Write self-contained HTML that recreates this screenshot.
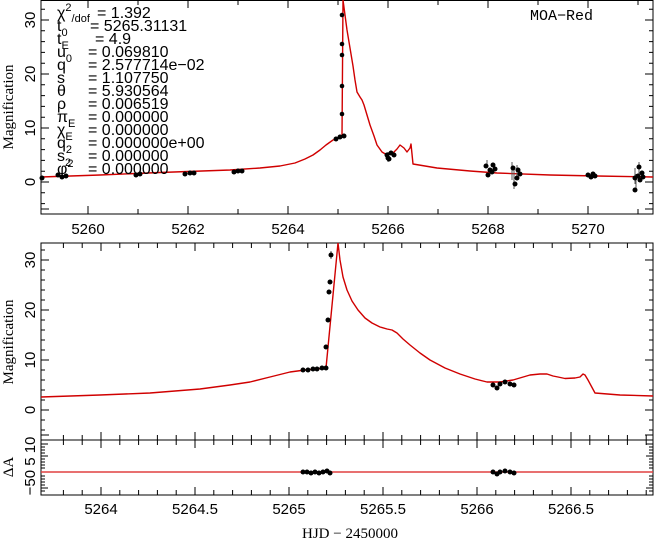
<!DOCTYPE html>
<html><head><meta charset="utf-8"><style>
html,body{margin:0;padding:0;background:#fff;}
svg{display:block;}
.t{font-family:"Liberation Sans",sans-serif;font-size:15px;fill:#000;}
.s{font-family:"Liberation Serif",serif;font-size:15px;fill:#000;}
.p{font-family:"Liberation Sans",sans-serif;font-size:16px;fill:#000;}
</style></head><body>
<svg width="655" height="542" viewBox="0 0 655 542" xmlns="http://www.w3.org/2000/svg">
<g stroke="#000" fill="none" stroke-width="1">
<rect x="41" y="0.5" width="612" height="213.5"/>
<rect x="41" y="243" width="612" height="252"/>
<line x1="41" y1="440" x2="653" y2="440"/>
</g>
<g stroke="#000" stroke-width="1">
<path d="M88 214v-8M88 0v8M188 214v-8M188 0v8M288 214v-8M288 0v8M388 214v-8M388 0v8M488 214v-8M488 0v8M588 214v-8M588 0v8
M138 214v-5M138 0v5M238 214v-5M238 0v5M338 214v-5M338 0v5M438 214v-5M438 0v5M538 214v-5M538 0v5M638 214v-5M638 0v5"/>
<path d="M41 182h8M653 182h-8M41 128h8M653 128h-8M41 74h8M653 74h-8M41 20h8M653 20h-8M41 209h8M653 209h-8
M41 171.2h4M41 160.4h4M41 149.6h4M41 138.8h4M41 117.2h4M41 106.4h4M41 95.6h4M41 84.8h4M41 63.2h4M41 52.4h4M41 41.6h4M41 30.8h4M41 9.2h4M41 192.8h4M41 203.6h4
M653 171.2h-4M653 160.4h-4M653 149.6h-4M653 138.8h-4M653 117.2h-4M653 106.4h-4M653 95.6h-4M653 84.8h-4M653 63.2h-4M653 52.4h-4M653 41.6h-4M653 30.8h-4M653 9.2h-4M653 192.8h-4M653 203.6h-4"/>
<path d="M101 243v8M195 243v8M289 243v8M383 243v8M477 243v8M571 243v8
M101 440v-8M195 440v-8M289 440v-8M383 440v-8M477 440v-8M571 440v-8
M101 440v8M195 440v8M289 440v8M383 440v8M477 440v8M571 440v8
M101 495v-8M195 495v-8M289 495v-8M383 495v-8M477 495v-8M571 495v-8
M63.4 243v5M82.2 243v5M119.8 243v5M138.6 243v5M157.4 243v5M176.2 243v5M213.8 243v5M232.6 243v5M251.4 243v5M270.2 243v5M307.8 243v5M326.6 243v5M345.4 243v5M364.2 243v5M401.8 243v5M420.6 243v5M439.4 243v5M458.2 243v5M495.8 243v5M514.6 243v5M533.4 243v5M552.2 243v5M589.8 243v5M608.6 243v5M627.4 243v5M646.2 243v5
M63.4 440v-5M82.2 440v-5M119.8 440v-5M138.6 440v-5M157.4 440v-5M176.2 440v-5M213.8 440v-5M232.6 440v-5M251.4 440v-5M270.2 440v-5M307.8 440v-5M326.6 440v-5M345.4 440v-5M364.2 440v-5M401.8 440v-5M420.6 440v-5M439.4 440v-5M458.2 440v-5M495.8 440v-5M514.6 440v-5M533.4 440v-5M552.2 440v-5M589.8 440v-5M608.6 440v-5M627.4 440v-5M646.2 440v-5
M63.4 440v5M82.2 440v5M119.8 440v5M138.6 440v5M157.4 440v5M176.2 440v5M213.8 440v5M232.6 440v5M251.4 440v5M270.2 440v5M307.8 440v5M326.6 440v5M345.4 440v5M364.2 440v5M401.8 440v5M420.6 440v5M439.4 440v5M458.2 440v5M495.8 440v5M514.6 440v5M533.4 440v5M552.2 440v5M589.8 440v5M608.6 440v5M627.4 440v5M646.2 440v5
M63.4 495v-5M82.2 495v-5M119.8 495v-5M138.6 495v-5M157.4 495v-5M176.2 495v-5M213.8 495v-5M232.6 495v-5M251.4 495v-5M270.2 495v-5M307.8 495v-5M326.6 495v-5M345.4 495v-5M364.2 495v-5M401.8 495v-5M420.6 495v-5M439.4 495v-5M458.2 495v-5M495.8 495v-5M514.6 495v-5M533.4 495v-5M552.2 495v-5M589.8 495v-5M608.6 495v-5M627.4 495v-5M646.2 495v-5"/>
<path d="M41 410h8M653 410h-8M41 360h8M653 360h-8M41 310h8M653 310h-8M41 260h8M653 260h-8M41 435h8M653 435h-8
M41 400h4M41 390h4M41 380h4M41 370h4M41 350h4M41 340h4M41 330h4M41 320h4M41 300h4M41 290h4M41 280h4M41 270h4M41 250h4M41 420h4M41 430h4
M653 400h-4M653 390h-4M653 380h-4M653 370h-4M653 350h-4M653 340h-4M653 330h-4M653 320h-4M653 300h-4M653 290h-4M653 280h-4M653 270h-4M653 250h-4M653 420h-4M653 430h-4"/>
<path d="M41 444h7M41 456h7M41 472h7M41 488h7M653 444h-7M653 456h-7M653 472h-7M653 488h-7
M41 447h4M41 450h4M41 453h4M41 459h4M41 462h4M41 465h4M41 468h4M41 476h4M41 479h4M41 482h4M41 485h4M41 491h4
M653 447h-4M653 450h-4M653 453h-4M653 459h-4M653 462h-4M653 465h-4M653 468h-4M653 476h-4M653 479h-4M653 482h-4M653 485h-4M653 491h-4"/>
</g>
<g fill="none" stroke="#d00000" stroke-width="1.4" stroke-linejoin="round">
<path d="M41 177 L100 175 L160 172.5 L230 170 L260 168 L280 166 L295 163 L305 159 L313 155 L320 150 L326 145 L333 140 L342 137 L343 0 M343 0 L345 15 L347 30 L349 42 L351 54 L353 66 L355 80 L357 92 L360 97 L362 100 L364 105 L367 115 L370 125 L374 136 L377 145 L382 152 L387 155 L393 153 L397 149 L400 145 L404 148 L407 152 L410 148 L411 144 L413 164 L437 168 L470 171 L497 173 L550 175 L597 176 L653 177"/>
<path d="M41 397 L100 395 L150 393 L200 389 L230 385 L250 382 L270 377 L290 372 L305 370 L326 368 L338 243 M338 243 L340 260 L343 277 L347 290 L352 301 L358 310 L365 318 L372 323 L380 327 L387 329 L392 330 L397 333 L403 339 L410 345 L420 353 L430 360 L445 368 L460 374 L475 379 L487 382 L500 382 L513 380 L530 375 L540 374 L547 374 L553 376 L558 377 L565 378.5 L575 378 L580 377 L583 374 L585 375 L588 380 L595 393 L620 395 L653 396"/>
<line x1="41" y1="472" x2="653" y2="472" stroke="#e04040"/>
</g>
<g fill="#000" stroke="#555" stroke-width="1">
<path d="M388 152v10M487 160v8M512 162v18M514 169v20M517 165v14M635 168v16M639 162v12M636 174v15M331 251v8"/>
</g>
<g fill="#000">
<circle cx="42" cy="178" r="2.5"/>
<circle cx="58" cy="175" r="2.5"/><circle cx="62" cy="177" r="2.5"/><circle cx="66" cy="176" r="2.5"/>
<circle cx="136" cy="175" r="2.5"/><circle cx="140" cy="174" r="2.5"/>
<circle cx="185" cy="174" r="2.5"/><circle cx="190" cy="173" r="2.5"/><circle cx="194" cy="173" r="2.5"/>
<circle cx="234" cy="172" r="2.5"/><circle cx="238" cy="171" r="2.5"/><circle cx="242" cy="171" r="2.5"/>
<circle cx="336" cy="139" r="2.5"/><circle cx="340" cy="137" r="2.5"/><circle cx="344" cy="136" r="2.5"/>
<circle cx="342" cy="15" r="2.3"/><circle cx="342" cy="44" r="2.3"/><circle cx="342" cy="55" r="2.3"/><circle cx="342" cy="86" r="2.3"/><circle cx="342" cy="114" r="2.3"/>
<circle cx="387" cy="155" r="2.5"/><circle cx="389" cy="159" r="2.5"/><circle cx="391" cy="153" r="2.5"/><circle cx="394" cy="155" r="2.5"/><circle cx="388" cy="158" r="2.5"/>
<circle cx="486" cy="166" r="2.5"/><circle cx="490" cy="170" r="2.5"/><circle cx="493" cy="165" r="2.5"/><circle cx="495" cy="169" r="2.5"/><circle cx="488" cy="175" r="2.5"/><circle cx="492" cy="172" r="2.5"/>
<circle cx="513" cy="168" r="2.5"/><circle cx="515" cy="184" r="2.5"/><circle cx="518" cy="170" r="2.5"/><circle cx="520" cy="174" r="2.5"/><circle cx="517" cy="178" r="2.5"/>
<circle cx="588" cy="175" r="2.5"/><circle cx="591" cy="177" r="2.5"/><circle cx="595" cy="176" r="2.5"/><circle cx="593" cy="174" r="2.5"/>
<circle cx="635" cy="178" r="2.5"/><circle cx="638" cy="176" r="2.5"/><circle cx="640" cy="180" r="2.5"/><circle cx="643" cy="177" r="2.5"/><circle cx="635" cy="190" r="2.5"/><circle cx="639" cy="167" r="2.5"/><circle cx="642" cy="173" r="2.5"/>
<circle cx="303" cy="370" r="2.5"/><circle cx="308" cy="370" r="2.5"/><circle cx="313" cy="369" r="2.5"/><circle cx="317" cy="369" r="2.5"/><circle cx="322" cy="368" r="2.5"/><circle cx="326" cy="368" r="2.5"/>
<circle cx="326" cy="347" r="2.5"/><circle cx="328" cy="320" r="2.5"/><circle cx="329" cy="292" r="2.5"/><circle cx="330" cy="282" r="2.5"/><circle cx="331" cy="255" r="2.5"/>
<circle cx="493" cy="385" r="2.5"/><circle cx="497" cy="388" r="2.5"/><circle cx="500" cy="384" r="2.5"/><circle cx="505" cy="382" r="2.5"/><circle cx="510" cy="384" r="2.5"/><circle cx="514" cy="385" r="2.5"/>
<circle cx="303" cy="472" r="2.5"/><circle cx="307" cy="472" r="2.5"/><circle cx="311" cy="473" r="2.5"/><circle cx="315" cy="472" r="2.5"/><circle cx="319" cy="473" r="2.5"/><circle cx="323" cy="472" r="2.5"/><circle cx="327" cy="471" r="2.5"/><circle cx="330" cy="473" r="2.5"/>
<circle cx="493" cy="472" r="2.5"/><circle cx="497" cy="474" r="2.5"/><circle cx="500" cy="472" r="2.5"/><circle cx="505" cy="471" r="2.5"/><circle cx="510" cy="472" r="2.5"/><circle cx="514" cy="473" r="2.5"/>
</g>
<g class="t" text-anchor="middle">
<text x="88" y="234">5260</text><text x="188" y="234">5262</text><text x="288" y="234">5264</text><text x="388" y="234">5266</text><text x="488" y="234">5268</text><text x="588" y="234">5270</text>
<text x="101" y="514">5264</text><text x="195" y="514">5264.5</text><text x="289" y="514">5265</text><text x="383" y="514">5265.5</text><text x="477" y="514">5266</text><text x="571" y="514">5266.5</text>
</g>
<g class="t" text-anchor="middle">
<text transform="translate(35,182) rotate(-90)">0</text>
<text transform="translate(35,128) rotate(-90)">10</text>
<text transform="translate(35,74) rotate(-90)">20</text>
<text transform="translate(35,20) rotate(-90)">30</text>
<text transform="translate(35,410) rotate(-90)">0</text>
<text transform="translate(35,360) rotate(-90)">10</text>
<text transform="translate(35,310) rotate(-90)">20</text>
<text transform="translate(35,260) rotate(-90)">30</text>
<text transform="translate(35,466) rotate(-90)">−50 5 10</text>
</g>
<g class="s" text-anchor="middle">
<text transform="translate(13,107) rotate(-90)">Magnification</text>
<text transform="translate(13,342) rotate(-90)">Magnification</text>
<text transform="translate(13,467) rotate(-90)">ΔA</text>
<text x="350" y="538">HJD − 2450000</text>
</g>
<text x="530" y="20" style="font-family:'Liberation Mono',monospace;font-size:15px">MOA−Red</text>
<g class="p">
<text x="57" y="18">χ<tspan dy="-7" font-size="11">2</tspan><tspan dy="11" font-size="11">/dof</tspan></text><text x="97" y="18">= 1.392</text>
<text x="57" y="31">t<tspan dy="5" font-size="11">0</tspan></text>
<text x="57" y="44">t<tspan dy="5" font-size="11">E</tspan></text>
<text x="57" y="57">u<tspan dy="5" font-size="11">0</tspan></text>
<text x="57" y="70">q</text>
<text x="57" y="83">s</text>
<text x="57" y="96">θ</text>
<text x="57" y="109">ρ</text>
<text x="57" y="122">π<tspan dy="5" font-size="11">E</tspan></text>
<text x="57" y="135">χ<tspan dy="5" font-size="11">E</tspan></text>
<text x="57" y="148">q<tspan dy="5" font-size="11">2</tspan></text>
<text x="57" y="161">s<tspan dy="5" font-size="11">2</tspan></text>
<text x="57" y="174">φ<tspan dy="-7" font-size="11">2</tspan></text>
<text x="90" y="31">=  5265.31131</text>
<text x="95" y="44">= 4.9</text>
<text x="88" y="57">=  0.069810</text>
<text x="88" y="70">=  2.577714e−02</text>
<text x="88" y="83">=  1.107750</text>
<text x="88" y="96">=  5.930564</text>
<text x="88" y="109">=  0.006519</text>
<text x="88" y="122">=  0.000000</text>
<text x="88" y="135">=  0.000000</text>
<text x="88" y="148">=  0.000000e+00</text>
<text x="88" y="161">=  0.000000</text>
<text x="88" y="174">=  0.000000</text>
</g>
</svg>
</body></html>
